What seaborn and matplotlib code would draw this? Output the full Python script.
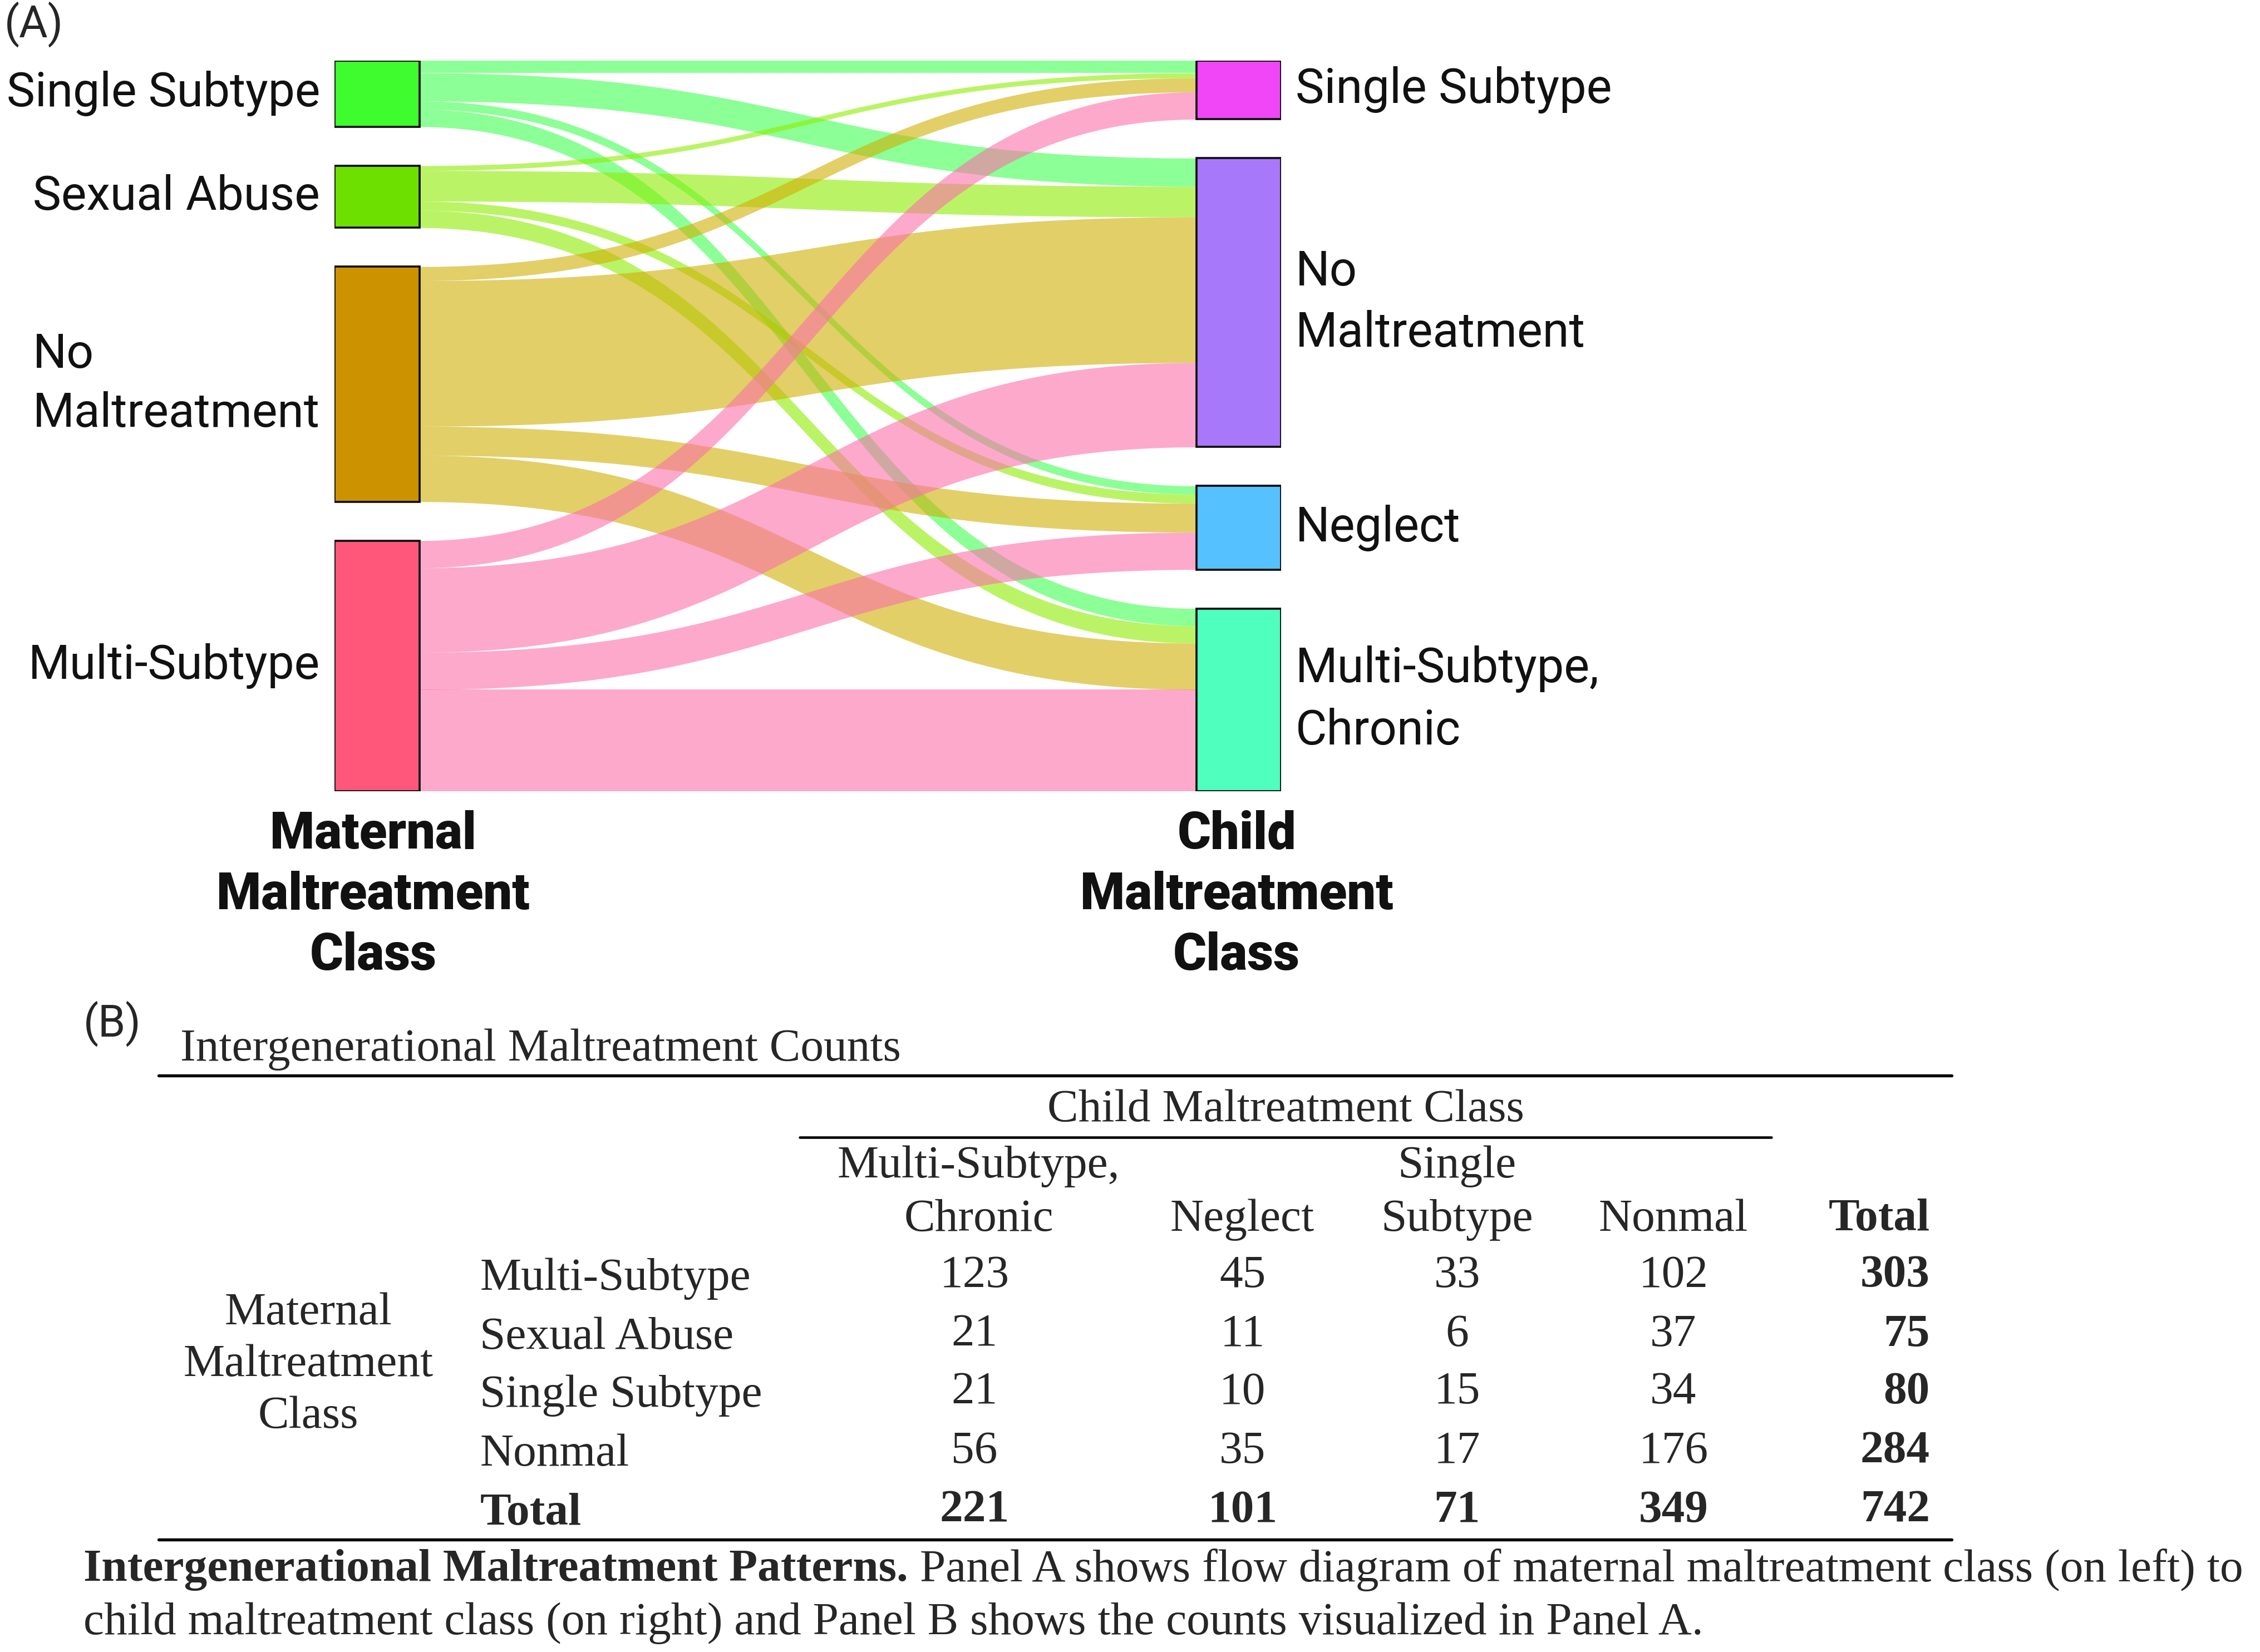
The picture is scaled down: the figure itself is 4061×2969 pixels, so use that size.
import numpy as np
import pandas as pd
import matplotlib.pyplot as plt
import seaborn as sns
from matplotlib.lines import Line2D

# ---- data ----
maternal = ['Single Subtype', 'Sexual Abuse', 'No Maltreatment', 'Multi-Subtype']
child = ['Single Subtype', 'No Maltreatment', 'Neglect', 'Multi-Subtype, Chronic']
# counts from each maternal class to child classes (child order above)
single_row = [15, 34, 10, 21]
sexual_row = [6, 37, 11, 21]
nomal_row = [17, 176, 35, 56]
multi_row = [33, 102, 45, 123]

maternal_labels = ['Single Subtype', 'Sexual Abuse', 'No\nMaltreatment', 'Multi-Subtype']
child_labels = ['Single Subtype', 'No\nMaltreatment', 'Neglect', 'Multi-Subtype,\nChronic']

maternal_colors = ['#3FFC2E', '#6EE000', '#CC9200', '#FF577A']
child_colors = ['#F046F8', '#A878FA', '#55C1FF', '#4FFFBE']
link_colors = ['#3FFF50', '#8CEE00', '#D0AF03', '#FC71AA']

# table (panel B) ordering
tab_rows = ['Multi-Subtype', 'Sexual Abuse', 'Single Subtype', 'No Maltreatment']
tab_row_labels = ['Multi-Subtype', 'Sexual Abuse', 'Single Subtype', 'Nonmal']
tab_cols = ['Multi-Subtype, Chronic', 'Neglect', 'Single Subtype', 'No Maltreatment']
tab_col_heads = [['Multi-Subtype,', 'Chronic'], ['', 'Neglect'], ['Single', 'Subtype'], ['', 'Nonmal']]

flows = pd.DataFrame([single_row, sexual_row, nomal_row, multi_row], index=maternal, columns=child)

sns.set_theme(style='white')
plt.rcParams['font.family'] = ['Roboto', 'DejaVu Sans']
SERIF = ['Liberation Serif', 'DejaVu Serif']
FS = 20.0  # serif size

W, H = 1568, 1146  # layout units (reference preview pixels)
fig = plt.figure(figsize=(4061 / 300, 2969 / 300), dpi=300)


def fx(x):
    return x / W


def fy(y):
    return 1 - y / H


# ---- panel A: sankey ----
gap = 47
total = flows.values.sum()
span = total + 3 * gap
ax = fig.add_axes([fx(232), fy(549), fx(889) - fx(232), fy(42) - fy(549)])
ax.set_xlim(232, 889)
ax.set_ylim(span, 0)
ax.axis('off')

node_w = 59
xl0, xl1 = 232, 232 + node_w
xr0, xr1 = 889 - node_w, 889

src_tot = flows.sum(axis=1).values
tgt_tot = flows.sum(axis=0).values
src_top = np.concatenate([[0], np.cumsum(src_tot + gap)[:-1]])
tgt_top = np.concatenate([[0], np.cumsum(tgt_tot + gap)[:-1]])

# incoming links stacked in source order at each target
tgt_start = {}
for j in range(4):
    o = tgt_top[j]
    for i in range(4):
        tgt_start[(i, j)] = o
        o += flows.iloc[i, j]

# cubic bezier with control points at mid x (curvature 0.5)
tt = np.linspace(0, 1, 400)
bx = 1.5 * tt * (1 - tt) + tt ** 3
by = 3 * tt ** 2 - 2 * tt ** 3
xs = np.linspace(xl1, xr0, 400)
s = np.interp((xs - xl1) / (xr0 - xl1), bx, by)
for i in range(4):
    o = src_top[i]
    for j in range(4):
        v = flows.iloc[i, j]
        a, b = o, tgt_start[(i, j)]
        top = a + (b - a) * s
        ax.fill_between(xs, top, top + v, color=link_colors[i], alpha=0.6, lw=0)
        o += v

for i in range(4):
    ax.bar(xl0, src_tot[i], bottom=src_top[i], width=node_w, align='edge',
           color=maternal_colors[i], edgecolor='#111111', linewidth=0.9, zorder=3)
    ax.text(222, src_top[i] + src_tot[i] / 2, maternal_labels[i], ha='right', va='center',
            multialignment='left', fontsize=20.6, linespacing=1.4, color='#111111')
for j in range(4):
    ax.text(899, tgt_top[j] + tgt_tot[j] / 2, child_labels[j], ha='left', va='center',
            fontsize=20.8, linespacing=1.4, color='#111111')
    ax.bar(xr0, tgt_tot[j], bottom=tgt_top[j], width=node_w, align='edge',
           color=child_colors[j], edgecolor='#111111', linewidth=0.9, zorder=3)

fig.text(fx(3), fy(17), '(A)', ha='left', va='center', fontsize=19)
for xc, lab in [(259, 'Maternal\nMaltreatment\nClass'), (858, 'Child\nMaltreatment\nClass')]:
    fig.text(fx(xc), fy(621), lab, ha='center', va='center', fontsize=22,
             fontweight='black', linespacing=1.3, color='#111111')

# ---- panel B: table ----
fig.text(fx(58), fy(710), '(B)', ha='left', va='center', fontsize=19)
fig.text(fx(125), fy(728), 'Intergenerational Maltreatment Counts', ha='left', va='center',
         fontsize=FS, family=SERIF)


def hline(x0, x1, y, lw=1.3):
    fig.add_artist(Line2D([fx(x0), fx(x1)], [fy(y), fy(y)], color='black', lw=lw,
                          transform=fig.transFigure))


hline(110, 1354, 746)
fig.text(fx(892), fy(770), 'Child Maltreatment Class', ha='center', va='center',
         fontsize=FS, family=SERIF)
hline(555, 1229, 789, lw=1.1)

col_x = [679, 862, 1011, 1161]
for cx, (l1, l2) in zip(col_x, tab_col_heads):
    if l1:
        fig.text(fx(cx), fy(809), l1, ha='center', va='center', fontsize=FS, family=SERIF)
    fig.text(fx(cx), fy(846), l2, ha='center', va='center', fontsize=FS, family=SERIF)
fig.text(fx(1339), fy(846), 'Total', ha='right', va='center', fontsize=FS,
         family=SERIF, fontweight='bold')

tab = flows.loc[tab_rows, tab_cols]
row_y = [885, 926, 966, 1007]
num_x = [676, 862, 1011, 1161]
for r, ry in enumerate(row_y):
    fig.text(fx(333), fy(ry + 2), tab_row_labels[r], ha='left', va='center',
             fontsize=FS, family=SERIF)
    for c in range(4):
        fig.text(fx(num_x[c]), fy(ry), str(tab.iloc[r, c]), ha='center', va='center',
                 fontsize=FS, family=SERIF)
    fig.text(fx(1339), fy(ry), str(tab.iloc[r].sum()), ha='right', va='center',
             fontsize=FS, family=SERIF, fontweight='bold')
fig.text(fx(333), fy(1050), 'Total', ha='left', va='center', fontsize=FS,
         family=SERIF, fontweight='bold')
for c in range(4):
    fig.text(fx(num_x[c]), fy(1048), str(tab.iloc[:, c].sum()), ha='center', va='center',
             fontsize=FS, family=SERIF, fontweight='bold')
fig.text(fx(1339), fy(1048), str(tab.values.sum()), ha='right', va='center',
         fontsize=FS, family=SERIF, fontweight='bold')
fig.text(fx(214), fy(947), 'Maternal\nMaltreatment\nClass', ha='center', va='center',
         fontsize=FS, family=SERIF, linespacing=1.3)
hline(110, 1354, 1068)

# ---- caption ----
CFS = 20.0
bold = fig.text(fx(58), fy(1089), 'Intergenerational Maltreatment Patterns.', ha='left',
                va='center', fontsize=CFS, family=SERIF, fontweight='bold')
fig.canvas.draw()
bb = bold.get_window_extent(renderer=fig.canvas.get_renderer())
x_end = fig.transFigure.inverted().transform((bb.x1, bb.y0))[0]
fig.text(x_end, fy(1089), ' Panel A shows flow diagram of maternal maltreatment class (on left) to',
         ha='left', va='center', fontsize=CFS, family=SERIF)
fig.text(fx(58), fy(1126), 'child maltreatment class (on right) and Panel B shows the counts visualized in Panel A.',
         ha='left', va='center', fontsize=CFS, family=SERIF)

fig.savefig('out.png', dpi=300, facecolor='white')
